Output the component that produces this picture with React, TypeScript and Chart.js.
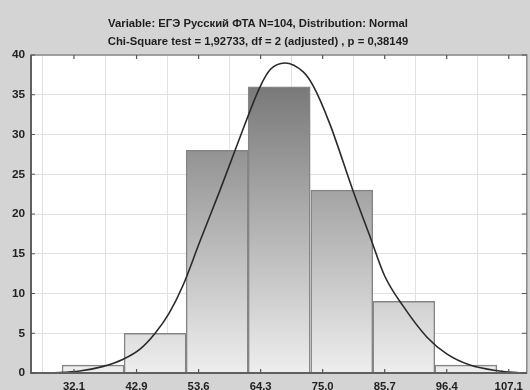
import React, { useEffect, useRef } from "react";
import { Chart, registerables } from "chart.js";

Chart.register(...registerables);

const titleLines = [
  "Variable: ЕГЭ Русский ФТА N=104, Distribution: Normal",
  "Chi-Square test = 1,92733, df = 2 (adjusted) , p = 0,38149",
];

// histogram bins (centres) and observed counts
const binCenters = [35.4, 46.1, 56.8, 67.5, 78.3, 89.0, 99.7];
const counts = [1, 5, 28, 36, 23, 9, 1];

// x tick labels
const xTickValues = [32.1, 42.9, 53.6, 64.3, 75.0, 85.7, 96.4, 107.1];

// fitted normal curve
const curveX = [28.0, 33.1, 37.0, 40.5, 43.5, 46.1, 48.5, 50.9, 53.8, 57.3, 60.3, 64.2, 66.0, 68.5, 71.6, 73.3, 76.2, 80.2, 83.1, 85.7, 88.8, 93.0, 96.4, 100.4, 105.5, 109.0];
const curveY = [0, 0.25, 0.8, 1.7, 3.0, 5.0, 7.5, 11.0, 16.5, 23.0, 28.8, 36.0, 38.2, 39.0, 37.9, 36.2, 31.4, 23.0, 17.3, 12.2, 8.5, 4.5, 2.4, 1.0, 0.25, 0];

const X_MIN = 24.69;
const X_MAX = 110.21;

const FONT = "'Liberation Sans', Arial, sans-serif";

const frame = {
  id: "frame",
  beforeDraw(chart: any) {
    const { ctx, chartArea: a, width, height } = chart;
    ctx.save();
    ctx.fillStyle = "#d4d4d4";
    ctx.fillRect(0, 0, width, height);
    ctx.fillStyle = "#ffffff";
    ctx.fillRect(a.left, a.top, a.right - a.left, a.bottom - a.top);
    ctx.fillStyle = "#1e1e1e";
    ctx.font = "bold 11.3px " + FONT;
    ctx.textAlign = "center";
    ctx.textBaseline = "middle";
    ctx.fillText(titleLines[0], 258, 24);
    ctx.fillText(titleLines[1], 258, 42);
    ctx.restore();
  },
  afterDraw(chart: any) {
    const { ctx, chartArea: a, scales } = chart;
    ctx.save();
    ctx.strokeStyle = "#8a8a8a";
    ctx.lineWidth = 1.5;
    ctx.strokeRect(a.left, a.top, a.right - a.left, a.bottom - a.top);
    ctx.strokeStyle = "#606060";
    ctx.lineWidth = 2;
    ctx.beginPath();
    ctx.moveTo(a.left, a.top);
    ctx.lineTo(a.left, a.bottom);
    ctx.lineTo(a.right, a.bottom);
    ctx.stroke();
    ctx.strokeStyle = "#555";
    ctx.lineWidth = 1.2;
    ctx.beginPath();
    scales.y.ticks.forEach((t: any) => {
      const y = scales.y.getPixelForValue(t.value);
      ctx.moveTo(a.left, y);
      ctx.lineTo(a.left + 4, y);
      ctx.moveTo(a.right, y);
      ctx.lineTo(a.right - 5, y);
    });
    scales.x.ticks.forEach((t: any) => {
      const x = scales.x.getPixelForValue(t.value);
      ctx.moveTo(x, a.top);
      ctx.lineTo(x, a.top + 4);
      ctx.moveTo(x, a.bottom);
      ctx.lineTo(x, a.bottom - 4);
    });
    ctx.stroke();
    ctx.restore();
  },
};

export default function App() {
  const ref = useRef<HTMLCanvasElement>(null);
  useEffect(() => {
    document.body.style.margin = "0";
    const canvas = ref.current!;
    const chart = new Chart(canvas, {
      type: "bar",
      data: {
        datasets: [
          {
            type: "line",
            data: curveX.map((x, i) => ({ x, y: curveY[i] })),
            borderColor: "#2a2a2a",
            borderWidth: 1.6,
            pointRadius: 0,
            cubicInterpolationMode: "monotone",
            fill: false,
            order: 0,
          } as any,
          {
            type: "bar",
            data: binCenters.map((x, i) => ({ x, y: counts[i] })),
            backgroundColor: (c: any) => {
              const a = c.chart.chartArea;
              if (!a) return "#aaaaaa";
              const g = c.chart.ctx.createLinearGradient(0, a.top, 0, a.bottom);
              g.addColorStop(0, "#6c6c6c");
              g.addColorStop(1, "#eeeeee");
              return g;
            },
            borderColor: "#858585",
            borderWidth: 1.5,
            barPercentage: 1,
            categoryPercentage: 1,
            order: 1,
          } as any,
        ],
      },
      options: {
        animation: false,
        responsive: false,
        layout: { padding: { top: 55, right: 3, left: 0, bottom: 0 } },
        plugins: { legend: { display: false }, tooltip: { enabled: false }, title: { display: false } },
        scales: {
          x: {
            type: "linear",
            min: X_MIN,
            max: X_MAX,
            offset: false,
            afterBuildTicks: (s: any) => {
              s.ticks = xTickValues.map((v) => ({ value: v }));
            },
            afterFit: (s: any) => {
              s.height = 17;
            },
            ticks: {
              callback: (v: any) => Number(v).toFixed(1),
              color: "#222",
              font: { family: FONT, size: 11.3, weight: "bold" },
              padding: 7,
              maxRotation: 0,
              autoSkip: false,
            },
            grid: { color: "#e2e2e2", drawTicks: false, lineWidth: 1 },
            border: { display: false },
          },
          y: {
            min: 0,
            max: 40,
            ticks: {
              stepSize: 5,
              color: "#222",
              font: { family: FONT, size: 11.8, weight: "bold" },
              padding: 6,
            },
            afterFit: (s: any) => {
              s.width = 31;
            },
            grid: { color: "#e2e2e2", drawTicks: false, lineWidth: 1 },
            border: { display: false },
          },
        },
      },
      plugins: [frame],
    });
    return () => chart.destroy();
  }, []);
  return (
    <div style={{ position: "absolute", left: 0, top: 0, width: 530, height: 390 }}>
      <canvas ref={ref} width={530} height={390} style={{ display: "block" }} />
    </div>
  );
}
